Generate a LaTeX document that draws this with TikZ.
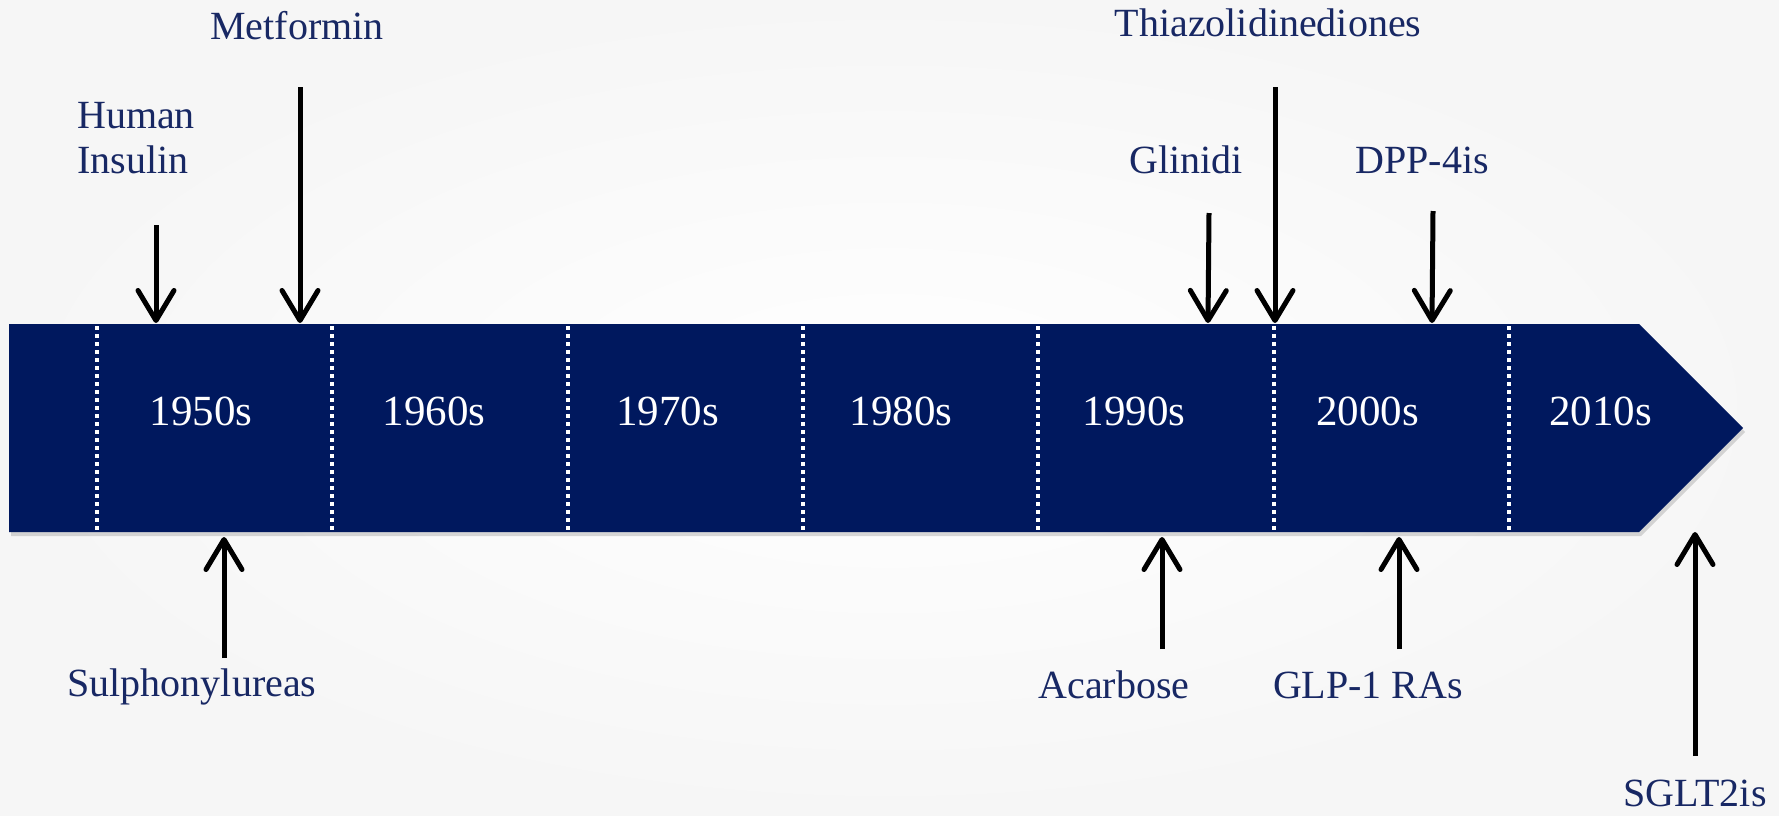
\documentclass[tikz,border=0pt]{standalone}
\usepackage{fontspec}
\setmainfont{Liberation Serif}
\usetikzlibrary{arrows.meta,shadows}
\definecolor{barblue}{RGB}{0,24,94}
\definecolor{labelblue}{RGB}{24,40,100}
\tikzset{
    drug/.style={text=labelblue, font=\fontsize{40}{45}\selectfont, inner sep=0pt, anchor=base},
    decade/.style={text=white, font=\fontsize{43}{48}\selectfont, inner sep=0pt, anchor=base},
    marker/.style={line width=5pt, -{Straight Barb[length=30pt,width=36pt,round]}},
    divider/.style={white, line width=4pt, dash pattern=on 4pt off 4pt}
}

\begin{document}
\begin{tikzpicture}[x=1pt,y=-1pt]
    \useasboundingbox (0,0) rectangle (1779,815);
    \shade[inner color=white, outer color=gray!7] (0,0) rectangle (1779,815);

    % timeline bar
    \fill[barblue, drop shadow={opacity=0.3, shadow xshift=2pt, shadow yshift=-4pt}]
        (9,324) -- (1639,324) -- (1743,428) -- (1639,532) -- (9,532) -- cycle;
    \foreach \i in {0,...,6}
        \draw[divider] (97+235.3*\i,326) -- (97+235.3*\i,530);
    \foreach \yr [count=\i from 0] in {1950s,1960s,1970s,1980s,1990s,2000s,2010s}
        \node[decade] (d\yr) at (201+233.3*\i,425) {\yr};

    % above the bar
    \node[drug, anchor=base west, align=left] (insulin) at (77,173) {Human\\Insulin};
    \node[drug] (metformin) at (297,39) {Metformin};
    \node[drug] (glinidi) at (1186,173) {Glinidi};
    \node[drug] (tzd) at (1268,36) {Thiazolidinediones};
    \node[drug] (dpp) at (1422,173) {DPP-4is};
    \coordinate (insulin-tail) at (156,225);   \coordinate (insulin-tip) at (156,323);
    \coordinate (metformin-tail) at (300,87);  \coordinate (metformin-tip) at (300,323);
    \coordinate (glinidi-tail) at (1209,213);  \coordinate (glinidi-tip) at (1208,323);
    \coordinate (tzd-tail) at (1275,87);       \coordinate (tzd-tip) at (1275,323);
    \coordinate (dpp-tail) at (1433,211);      \coordinate (dpp-tip) at (1432,323);

    % below the bar
    \node[drug] (sulph) at (192,696) {Sulphonylureas};
    \node[drug] (acarbose) at (1114,698) {Acarbose};
    \node[drug] (glp) at (1368,698) {GLP-1 RAs};
    \node[drug] (sglt) at (1695,806) {SGLT2is};
    \coordinate (sulph-tail) at (224,658);     \coordinate (sulph-tip) at (224,537);
    \coordinate (acarbose-tail) at (1162,649); \coordinate (acarbose-tip) at (1162,537);
    \coordinate (glp-tail) at (1399,649);      \coordinate (glp-tip) at (1399,537);
    \coordinate (sglt-tail) at (1695,756);     \coordinate (sglt-tip) at (1695,532);

    \foreach \d in {insulin,metformin,glinidi,tzd,dpp,sulph,acarbose,glp,sglt}
        \draw[marker] (\d-tail) -- (\d-tip);
\end{tikzpicture}
\end{document}
